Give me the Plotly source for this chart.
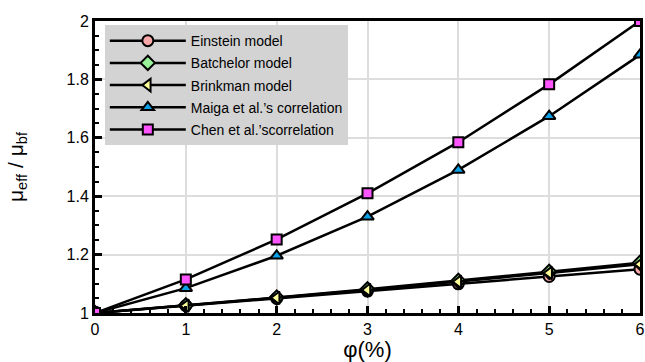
import plotly.graph_objects as go

phi = [0, 1, 2, 3, 4, 5, 6]
einstein = [1.0, 1.025, 1.05, 1.075, 1.10, 1.125, 1.15]
batchelor = [1.0, 1.026, 1.053, 1.081, 1.110, 1.141, 1.172]
brinkman = [1.0, 1.025, 1.052, 1.079, 1.107, 1.137, 1.167]
maiga = [1.0, 1.085, 1.196, 1.330, 1.490, 1.674, 1.884]
chen = [1.0, 1.115, 1.252, 1.410, 1.585, 1.783, 2.0]

series = [
    ("Einstein model", einstein, "circle", "#F8A8A8", 11),
    ("Batchelor model", batchelor, "diamond", "#98F098", 11),
    ("Brinkman model", brinkman, "triangle-left", "#FFFF99", 11),
    ("Maiga et al.\u2019s correlation", maiga, "triangle-up", "#0AA0E6", 11),
    ("Chen et al.\u2019scorrelation", chen, "square", "#FF55FF", 10),
]

fig = go.Figure()
for i, (name, ys, sym, col, sz) in enumerate(series):
    fig.add_trace(go.Scatter(
        x=phi, y=ys, name=name, mode="lines+markers", legendgroup=f"g{i}",
        line=dict(color="black", width=2.5),
        marker=dict(symbol=sym, size=sz, color=col, line=dict(color="black", width=2)),
    ))

axis_common = dict(
    showline=True, linecolor="black", linewidth=3, mirror=True,
    ticks="inside", ticklen=7, tickwidth=2.5, tickcolor="black",
    showgrid=True, gridcolor="#DDDDDD", gridwidth=1.5, zeroline=False,
    tickfont=dict(family="Arial", size=16, color="black"),
    automargin=False,
)

fig.update_xaxes(
    range=[0, 6], dtick=1, tick0=0,
    minor=dict(dtick=0.2, ticks="inside", ticklen=4, tickwidth=2, tickcolor="black", showgrid=False),
    title=dict(text="\u03c6(%)", font=dict(family="Arial", size=22, color="black"), standoff=0),
    **axis_common,
)
fig.update_yaxes(
    range=[1, 2], dtick=0.2, tick0=1,
    minor=dict(dtick=0.05, ticks="inside", ticklen=4, tickwidth=2, tickcolor="black", showgrid=False),
    title=dict(text="\u03bc<sub>eff</sub> / \u03bc<sub>bf</sub>", font=dict(family="Arial", size=21, color="black"), standoff=38),
    **axis_common,
)

fig.update_layout(
    width=645, height=362,
    margin=dict(l=95, r=5, t=21, b=49),
    plot_bgcolor="white", paper_bgcolor="white",
    showlegend=True,
    legend=dict(
        x=0.018, y=0.986, xanchor="left", yanchor="top",
        bgcolor="#D3D3D3", borderwidth=0,
        font=dict(family="Arial", size=14, color="black"),
        itemwidth=76, tracegroupgap=1, traceorder="grouped",
    ),
)

fig.write_html("out.html")
